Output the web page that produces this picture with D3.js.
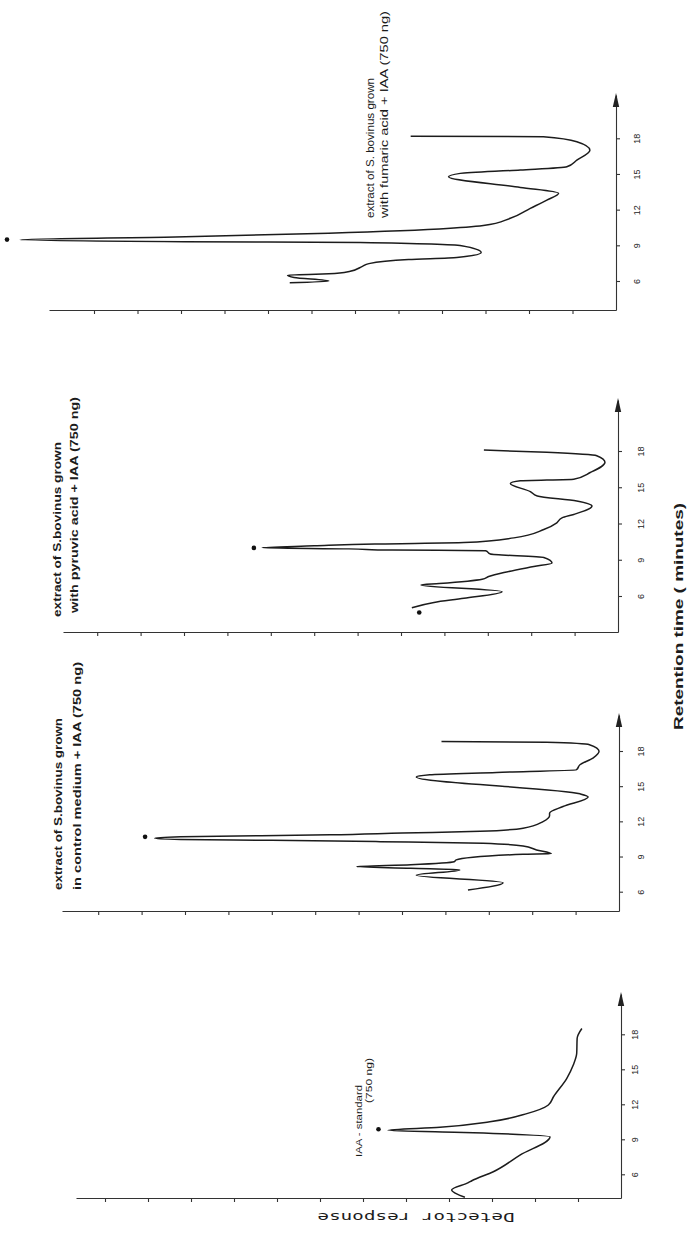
<!DOCTYPE html>
<html>
<head>
<meta charset="utf-8">
<script src="https://cdn.jsdelivr.net/npm/d3@7"></script>
<style>
  body { margin: 0; background: #fff; }
  svg { display: block; }
  .trace { fill: none; stroke: #1c1c1c; stroke-width: 1.5; stroke-linejoin: round; }
  .axis path, .axis line { stroke: #333; stroke-width: 1.1; }
  .axis text { font-family: "Liberation Sans", Arial, sans-serif; font-size: 9px; fill: #222; }
  .lbl { font-family: "Liberation Sans", Arial, sans-serif; fill: #1c1c1c; }
</style>
</head>
<body>
<div id="chart"></div>
<script>
// ***** HPLC traces, figure is stored turned a quarter turn (retention axis runs upward) *****

// retention time ticks (minutes)
var tickTimes = [6, 9, 12, 15, 18];
var tickLabels = ["6", "9", "12", "15", "18"];
// detector response ticks (arbitrary units)
var respTicks = [1, 2, 3, 4, 5, 6, 7, 8, 9, 10, 11, 12];

// IAA standard (750 ng)
var stdTime = [4.03, 4.65, 5.28, 5.45, 6.22, 7.65, 9.22, 9.57, 9.78, 10.03, 10.5, 11.2, 11.94, 12.65, 14.23, 15.37, 16.37, 17.65, 18.5];
var stdResp = [3.63, 3.94, 3.55, 3.47, 2.97, 2.35, 1.65, 3.43, 5.42, 4.21, 3.05, 2.19, 1.69, 1.57, 1.26, 1.11, 1.03, 1.02, 0.91];

// control medium + IAA
var ctrlTime = [6.15, 6.77, 7.4, 7.86, 8.0, 8.14, 8.3, 8.55, 8.71, 9.2, 9.24, 9.56, 9.9, 10.14, 10.27, 10.38, 10.45, 10.55, 10.68, 10.85, 11.0, 11.15, 11.42, 11.98, 12.47, 12.7, 13.27, 14.07, 14.35, 15.78, 15.97, 16.17, 16.4, 16.83, 17.4, 17.97, 18.54, 18.74, 18.82];
var ctrlResp = [3.48, 2.67, 4.67, 3.67, 4.8, 6.05, 4.8, 3.8, 3.75, 2.21, 1.56, 1.9, 2.21, 3.13, 5.5, 8.0, 10.1, 10.7, 10.1, 6.66, 5.0, 3.2, 2.21, 1.75, 1.6, 1.6, 1.29, 0.71, 0.9, 4.67, 4.36, 2.82, 0.98, 0.9, 0.6, 0.46, 0.68, 1.67, 4.09];

// pyruvic acid + IAA
var pyrTime = [5.03, 5.47, 5.81, 6.36, 6.92, 7.03, 7.39, 7.61, 7.94, 8.44, 8.73, 9.19, 9.47, 9.75, 9.8, 9.9, 10.0, 10.15, 10.3, 10.42, 10.81, 11.5, 12.06, 12.47, 12.75, 13.44, 13.86, 14.28, 14.64, 15.31, 15.53, 15.67, 16.22, 17.06, 17.61, 17.89, 18.08];
var pyrResp = [4.75, 4.24, 3.55, 2.67, 4.54, 4.12, 3.13, 2.98, 2.63, 1.94, 1.52, 1.71, 2.94, 3.05, 5.2, 6.2, 8.2, 7.0, 5.6, 3.55, 2.4, 1.71, 1.41, 1.29, 1.02, 0.6, 0.95, 1.86, 2.02, 2.48, 2.25, 1.02, 0.64, 0.3, 0.49, 1.64, 3.09];

// fumaric acid + IAA
var fumTime = [5.85, 6.0, 6.3, 6.5, 6.6, 6.8, 7.23, 7.46, 7.8, 7.97, 8.4, 8.97, 9.24, 9.3, 9.48, 9.71, 9.98, 10.38, 10.66, 11.27, 12.11, 12.8, 13.37, 13.87, 14.76, 15.05, 15.33, 15.61, 16.17, 17.0, 17.71, 18.13, 18.18];
var fumResp = [7.5, 6.6, 7.4, 7.55, 6.6, 6.13, 5.83, 5.68, 4.77, 3.66, 3.1, 3.55, 5.88, 9.93, 13.7, 10.13, 7.1, 4.06, 3.05, 2.43, 1.97, 1.59, 1.32, 2.2, 3.85, 3.58, 2.2, 1.13, 0.9, 0.6, 0.9, 1.67, 4.72];

// marker dots (panel, time, response)
var dotPanel = ["std", "ctrl", "pyr", "pyr", "fum"];
var dotTime = [9.86, 10.68, 9.98, 4.64, 9.48];
var dotResp = [5.64, 10.92, 8.39, 4.58, 14.0];

// panel captions
var stdCaption = ["IAA - standard", "(750 ng)"];
var ctrlCaption = ["extract of S.bovinus grown", "in control medium + IAA (750 ng)"];
var pyrCaption = ["extract of S.bovinus grown", "with pyruvic acid + IAA (750 ng)"];
var fumCaption = ["extract of S. bovinus grown", "with fumaric acid + IAA (750 ng)"];

// layout of each panel on the page (px)
var panels = [
  {id: "std", time: stdTime, resp: stdResp, ox: 621, y6: 1174.3, y18: 1034.3, oy: 1198, yTop: 994, unit: 43, xEnd: 76, labelDx: 14,
   caption: stdCaption, capX: [362, 372], capY: [1157, 1103], capLen: [72, 45], capSize: 8.5, capWeight: "normal"},
  {id: "ctrl", time: ctrlTime, resp: ctrlResp, ox: 619, y6: 891.7, y18: 751, oy: 911, yTop: 715, unit: 43.4, xEnd: 62, labelDx: 22,
   caption: ctrlCaption, capX: [62, 81], capY: [890, 890], capLen: [172, 228], capSize: 11, capWeight: "600"},
  {id: "pyr", time: pyrTime, resp: pyrResp, ox: 618, y6: 596, y18: 451, oy: 632, yTop: 400, unit: 43.4, xEnd: 63, labelDx: 23,
   caption: pyrCaption, capX: [61, 78], capY: [617, 613], capLen: [175, 216], capSize: 11, capWeight: "bold"},
  {id: "fum", time: fumTime, resp: fumResp, ox: 616, y6: 281, y18: 138.3, oy: 310, yTop: 95, unit: 43.5, xEnd: 49, labelDx: 21,
   caption: fumCaption, capX: [374, 388], capY: [218, 218], capLen: [140, 207], capSize: 10.5, capWeight: "normal"}
];

var W = 689, H = 1242;
var svg = d3.select("#chart").append("svg")
    .attr("width", W)
    .attr("height", H);

panels.forEach(function(p){
  // retention time runs upward, detector response runs to the left
  var y = d3.scaleLinear().domain([6, 18]).range([p.y6, p.y18]);
  var x = d3.scaleLinear().domain([0, 1]).range([p.ox, p.ox - p.unit]);

  var g = svg.append("g").attr("class", "panel-" + p.id);

  // retention axis, from the corner up to the arrow
  var yAxis = y.copy().domain([y.invert(p.oy), y.invert(p.yTop)]).range([p.oy, p.yTop]);
  g.append("g")
      .attr("class", "axis")
      .attr("transform", "translate(" + p.ox + ",0)")
      .call(d3.axisRight(yAxis).tickValues(tickTimes)
            .tickFormat(function(d){ return tickLabels[tickTimes.indexOf(d)]; })
            .tickSize(4).tickSizeOuter(0))
      .selectAll("text")
      .attr("x", 0)
      .attr("dy", "0.35em")
      .attr("transform", "translate(" + p.labelDx + ",0) rotate(-90)")
      .style("text-anchor", "middle");

  // arrow head on the retention axis
  var tip = yAxis.range()[1];
  g.append("path")
      .attr("d", "M" + p.ox + "," + (tip - 2) + " L" + (p.ox - 3.2) + "," + (tip + 12) + " L" + (p.ox + 3.2) + "," + (tip + 12) + " Z")
      .style("fill", "#222");

  // detector response axis
  var xAxis = x.copy().domain([0, x.invert(p.xEnd)]).range([p.ox, p.xEnd]);
  g.append("g")
      .attr("class", "axis")
      .attr("transform", "translate(0," + p.oy + ")")
      .call(d3.axisBottom(xAxis).tickValues(respTicks).tickFormat("").tickSize(4).tickSizeOuter(0));

  // the trace
  var line = d3.line()
      .x(function(d, i){ return x(p.resp[i]); })
      .y(function(d, i){ return y(p.time[i]); })
      .curve(d3.curveMonotoneY);
  g.append("path")
      .datum(p.time)
      .attr("class", "trace")
      .attr("d", line);

  // marker dots
  dotPanel.forEach(function(id, i){
    if(id != p.id) return;
    g.append("circle")
        .attr("cx", x(dotResp[i]))
        .attr("cy", y(dotTime[i]))
        .attr("r", 2.3)
        .style("fill", "#111");
  });

  // caption, written along the retention axis
  p.caption.forEach(function(txt, i){
    g.append("text")
        .attr("class", "lbl")
        .attr("transform", "translate(" + p.capX[i] + "," + p.capY[i] + ") rotate(-90)")
        .attr("textLength", p.capLen[i])
        .attr("lengthAdjust", "spacingAndGlyphs")
        .style("font-size", p.capSize + "px")
        .style("font-weight", p.capWeight)
        .text(txt);
  });
});

// axis titles
svg.append("text")
    .attr("class", "lbl")
    .attr("transform", "translate(683,730) rotate(-90)")
    .attr("textLength", 227)
    .attr("lengthAdjust", "spacingAndGlyphs")
    .style("font-size", "13.5px")
    .style("font-weight", "bold")
    .text("Retention time ( minutes)");

svg.append("text")
    .attr("class", "lbl")
    .attr("transform", "translate(416,1213) rotate(180)")
    .attr("textLength", 197)
    .attr("lengthAdjust", "spacingAndGlyphs")
    .style("text-anchor", "middle")
    .style("font-family", "'DejaVu Sans Mono', monospace")
    .style("font-size", "13px")
    .text("Detector response");
</script>
</body>
</html>
